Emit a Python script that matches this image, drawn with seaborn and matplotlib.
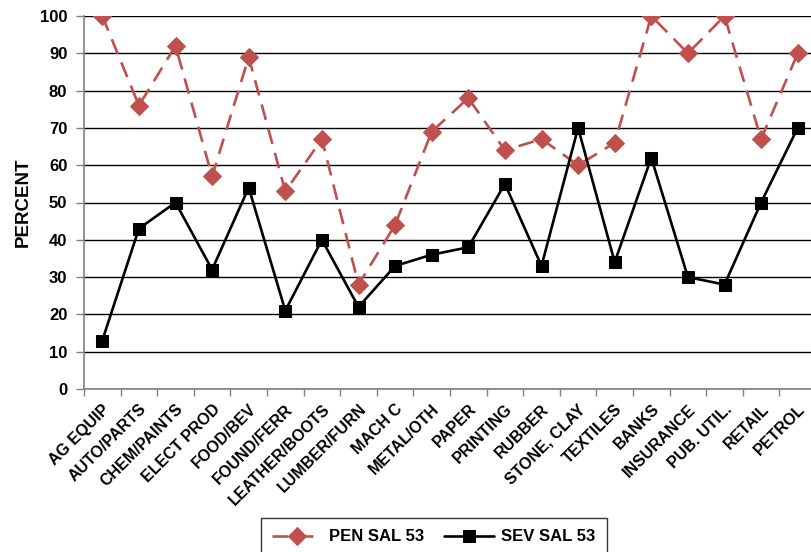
import matplotlib
matplotlib.use("Agg")
import matplotlib.pyplot as plt
import seaborn as sns
import pandas as pd
import numpy as np

categories = ["AG EQUIP", "AUTO/PARTS", "CHEM/PAINTS", "ELECT PROD", "FOOD/BEV",
              "FOUND/FERR", "LEATHER/BOOTS", "LUMBER/FURN", "MACH C", "METAL/OTH",
              "PAPER", "PRINTING", "RUBBER", "STONE, CLAY", "TEXTILES", "BANKS",
              "INSURANCE", "PUB. UTIL.", "RETAIL", "PETROL"]
pen_sal_53 = [100, 76, 92, 57, 89, 53, 67, 28, 44, 69, 78, 64, 67, 60, 66, 100, 90, 100, 67, 90]
sev_sal_53 = [13, 43, 50, 32, 54, 21, 40, 22, 33, 36, 38, 55, 33, 70, 34, 62, 30, 28, 50, 70]
y_ticks = [0, 10, 20, 30, 40, 50, 60, 70, 80, 90, 100]

sns.set_theme(style="white")
plt.rcParams['font.family'] = ['Liberation Sans', 'DejaVu Sans']
plt.rcParams['font.weight'] = 'bold'
for k in ['text.color', 'axes.labelcolor', 'xtick.labelcolor', 'ytick.labelcolor']:
    plt.rcParams[k] = 'black'

df = pd.DataFrame({"pos": np.arange(len(categories)), "cat": categories,
                   "PEN SAL 53": pen_sal_53, "SEV SAL 53": sev_sal_53})

fig = plt.figure(figsize=(8.12, 5.52), dpi=100)
ax = fig.add_axes([84/812, 1 - 389/552, 732/812, 373/552])

red = "#C0504D"
sns.lineplot(data=df, x="pos", y="PEN SAL 53", ax=ax, color=red, lw=1.9,
             marker="D", markersize=9, markeredgecolor=red, markerfacecolor=red,
             label="PEN SAL 53", sort=False)
ax.lines[-1].set_linestyle((0, (6, 3.5)))
sns.lineplot(data=df, x="pos", y="SEV SAL 53", ax=ax, color="black", lw=1.9,
             marker="s", markersize=9, markeredgecolor="black", markerfacecolor="black",
             label="SEV SAL 53", sort=False)

ax.set_xlim(-0.5, len(categories) - 0.5)
ax.set_ylim(0, 100)
ax.set_yticks(y_ticks)
ax.set_yticklabels([str(t) for t in y_ticks], fontsize=12, fontweight='bold', color='black')
ax.set_xticks(np.arange(len(categories)))
ax.set_xticklabels(categories, rotation=45, ha='right', rotation_mode='anchor',
                   fontsize=11.5, fontweight='bold', color='black')
ax.set_xticks(np.arange(-0.5, len(categories)), minor=True)
ax.tick_params(axis='x', which='major', length=0, pad=9)
ax.tick_params(axis='x', which='minor', length=5, width=1, color='#808080', direction='out', bottom=True)
ax.tick_params(axis='y', length=6, width=1, color='#808080', direction='out', left=True, pad=6)
ax.set_xlabel("")
ax.set_ylabel("PERCENT", fontsize=13.5, fontweight='bold', labelpad=6, color='black')

ax.yaxis.grid(True, color='black', lw=1)
ax.set_axisbelow(True)
for s in ['top', 'right']:
    ax.spines[s].set_visible(False)
for s in ['left', 'bottom']:
    ax.spines[s].set_color('#808080')
    ax.spines[s].set_linewidth(1.2)

ax.get_legend().remove()
handles, labels = ax.get_legend_handles_labels()
leg = fig.legend(handles, labels, loc='upper center', bbox_to_anchor=(0.534, 0.062),
                 ncol=2, frameon=True, fancybox=False, edgecolor='black',
                 prop={'size': 12, 'weight': 'bold'}, handlelength=3.0,
                 columnspacing=1.2, handletextpad=0.4, borderpad=0.7, borderaxespad=0)
leg.get_frame().set_linewidth(1.0)
for t in leg.get_texts():
    t.set_color('black')

fig.savefig("out.png", dpi=100)
